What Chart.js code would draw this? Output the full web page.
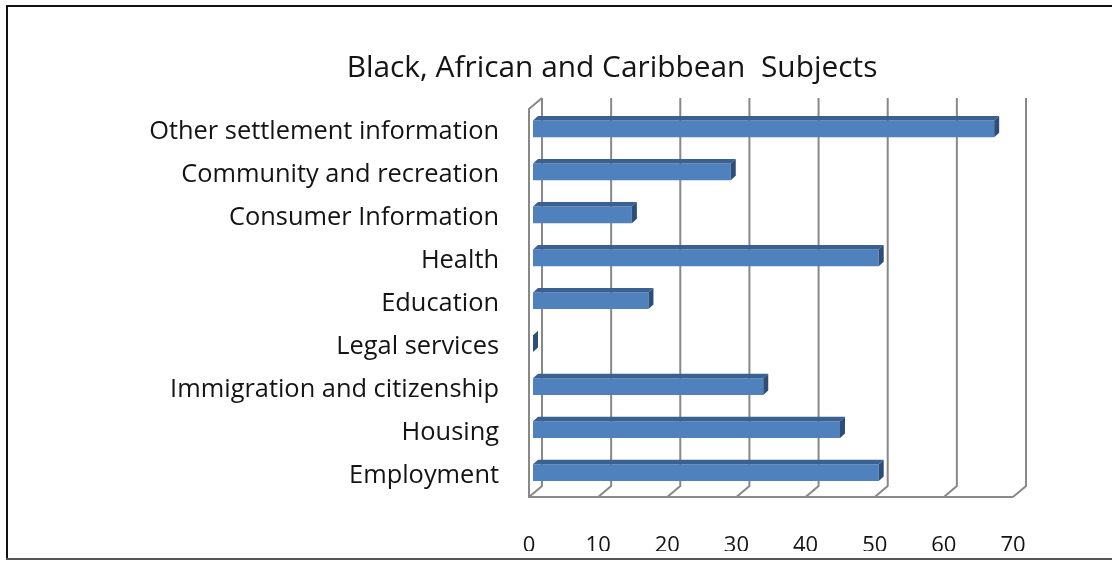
<!DOCTYPE html>
<html>
<head>
<meta charset="utf-8">
<script src="https://cdn.jsdelivr.net/npm/chart.js@4.4.1/dist/chart.umd.min.js"></script>
<style>
  html, body { margin: 0; padding: 0; background: #fff; }
  #wrap { width: 1112px; height: 561px; position: relative; }
</style>
</head>
<body>
<div id="wrap"><canvas id="c" width="1112" height="561"></canvas></div>
<script>
// ---- data ----
const titleText = 'Black, African and Caribbean  Subjects';
const categories = [
  'Other settlement information',
  'Community and recreation',
  'Consumer Information',
  'Health',
  'Education',
  'Legal services',
  'Immigration and citizenship',
  'Housing',
  'Employment'
];
const shares = [66.7, 28.6, 14.3, 50, 16.7, 0, 33.3, 44.4, 50];
const xTicks = [0, 10, 20, 30, 40, 50, 60, 70];

// ---- styling ----
const FONT = '"Open Sans", "Noto Sans", sans-serif';
const TEXT = '#141414';
const GRID = '#888888';
const FACE = '#4f81bd', TOP = '#3b6092', SIDE = '#2d4e78';

// size a font so a reference string occupies a given width
function fitSize(text, width) {
  const ctx = document.createElement('canvas').getContext('2d');
  ctx.font = '100px ' + FONT;
  return 100 * width / ctx.measureText(text).width;
}
const catSize = fitSize('Other settlement information', 350);
const titleSize = fitSize(titleText, 531);
const tickSize = 22;

// depth of the 3-D box (front floor edge -> back wall)
const DEPTH = { dx: 13, dy: -11 };
const FRONT_SHIFT = -4;     // front floor plane relative to the bar plane
const BAR_DEPTH = { dx: 5, dy: -4.5 };
const WALL_TOP = 98;

const box3d = {
  id: 'box3d',
  beforeDatasetsDraw(chart) {
    const { ctx, chartArea } = chart;
    const x = chart.scales.x;
    const yFloor = chartArea.bottom + 3;
    ctx.save();
    ctx.strokeStyle = GRID;
    ctx.lineWidth = 2;
    ctx.lineJoin = 'miter';
    xTicks.forEach(v => {
      const fx = x.getPixelForValue(v) + FRONT_SHIFT;
      const bx = fx + DEPTH.dx;
      ctx.beginPath();
      ctx.moveTo(bx, WALL_TOP);
      ctx.lineTo(bx, yFloor + DEPTH.dy);
      ctx.lineTo(fx, yFloor);
      ctx.stroke();
    });
    const f0 = x.getPixelForValue(xTicks[0]) + FRONT_SHIFT;
    const fN = x.getPixelForValue(xTicks[xTicks.length - 1]) + FRONT_SHIFT;
    ctx.beginPath();
    ctx.moveTo(fN, yFloor);
    ctx.lineTo(f0, yFloor);
    ctx.lineTo(f0, WALL_TOP - DEPTH.dy);
    ctx.lineTo(f0 + DEPTH.dx, WALL_TOP);
    ctx.stroke();
    ctx.restore();
  },
  afterDatasetsDraw(chart) {
    const { ctx } = chart;
    const meta = chart.getDatasetMeta(0);
    ctx.save();
    meta.data.forEach(el => {
      const p = el.getProps(['x', 'y', 'base', 'height'], true);
      const top = p.y - p.height / 2, bot = p.y + p.height / 2;
      const dx = BAR_DEPTH.dx, dy = BAR_DEPTH.dy;
      // top face
      ctx.fillStyle = TOP;
      ctx.beginPath();
      ctx.moveTo(p.base, top);
      ctx.lineTo(p.x, top);
      ctx.lineTo(p.x + dx, top + dy);
      ctx.lineTo(p.base + dx, top + dy);
      ctx.closePath();
      ctx.fill();
      // end face
      ctx.fillStyle = SIDE;
      ctx.beginPath();
      ctx.moveTo(p.x, top);
      ctx.lineTo(p.x + dx, top + dy);
      ctx.lineTo(p.x + dx, bot + dy);
      ctx.lineTo(p.x, bot);
      ctx.closePath();
      ctx.fill();
    });
    ctx.restore();
  },
  afterDraw(chart) {
    const { ctx } = chart;
    ctx.save();
    // title
    ctx.fillStyle = TEXT;
    ctx.font = titleSize.toFixed(2) + 'px ' + FONT;
    ctx.textAlign = 'center';
    ctx.textBaseline = 'alphabetic';
    ctx.fillText(titleText, 612, 77);
    // page edge below the axis labels
    ctx.fillStyle = '#fff';
    ctx.fillRect(8, 551, 1104, 7);
    // frame
    ctx.fillStyle = '#111';
    ctx.fillRect(6, 5, 1106, 2);
    ctx.fillRect(6, 5, 2, 555);
    ctx.fillStyle = '#555';
    ctx.fillRect(6, 558, 1106, 2);
    ctx.restore();
  }
};

new Chart(document.getElementById('c'), {
  type: 'bar',
  data: {
    labels: categories,
    datasets: [{
      data: shares,
      backgroundColor: FACE,
      borderWidth: 0,
      barPercentage: 0.39,
      categoryPercentage: 1
    }]
  },
  options: {
    indexAxis: 'y',
    responsive: false,
    animation: false,
    devicePixelRatio: 1,
    layout: { padding: { top: 107.5, right: 95, left: 0, bottom: 0 } },
    plugins: { legend: { display: false }, title: { display: false }, tooltip: { enabled: false } },
    scales: {
      x: {
        type: 'linear',
        min: 0,
        max: 70,
        afterBuildTicks: s => { s.ticks = xTicks.map(v => ({ value: v })); },
        ticks: {
          font: { family: FONT, size: tickSize },
          color: TEXT,
          padding: 39,
          labelOffset: -4,
          maxRotation: 0
        },
        grid: { display: false, drawTicks: false },
        border: { display: false },
        afterFit: s => { s.height = 67; }
      },
      y: {
        type: 'category',
        ticks: {
          font: { family: FONT, size: catSize },
          color: TEXT,
          padding: 34,
          labelOffset: 3
        },
        grid: { display: false, drawTicks: false },
        border: { display: false },
        afterFit: s => { s.width = 533; }
      }
    }
  },
  plugins: [box3d]
});
</script>
</body>
</html>
